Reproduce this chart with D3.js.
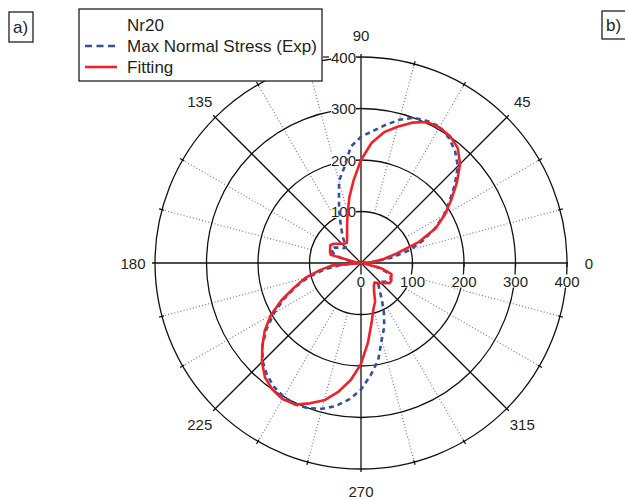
<!DOCTYPE html>
<html>
<head>
<meta charset="utf-8">
<script src="https://cdn.jsdelivr.net/npm/d3@7"></script>
<style>
	body { margin: 0; background: #fff; }
	svg { display: block; font-family: "Liberation Sans", Arial, sans-serif; }
	text { fill: #231f20; }
</style>
</head>
<body>
<svg width="625" height="500"></svg>
<script>
// Angles (degrees, counter-clockwise from the 0 direction) where the curves were read
const angles = [
	0, 5, 10, 15, 20, 25, 30, 35, 40, 45, 50, 55, 60, 65, 70, 75, 80, 85,
	90, 95, 100, 105, 110, 115, 120, 125, 130, 135, 140, 145, 150, 155, 160, 165, 170, 175,
	180, 185, 190, 195, 200, 205, 210, 215, 220, 225, 230, 235, 240, 245, 250, 255, 260, 265,
	270, 275, 280, 285, 290, 295, 300, 305, 310, 315, 320, 325, 330, 335, 340, 345, 350, 355
];

// Max Normal Stress (Exp) - blue dashed
const expStress = [
	0, 22, 60, 98, 128, 158, 186, 210, 238, 266, 284, 297, 306, 304, 300, 288, 272, 257,
	245, 227, 188, 165, 125, 98, 76, 62, 48, 42, 45, 52, 60, 64, 58, 44, 24, 8,
	0, 38, 72, 105, 135, 165, 195, 224, 250, 270, 284, 294, 300, 303, 300, 293, 282, 266,
	246, 218, 192, 155, 132, 105, 80, 62, 52, 52, 57, 62, 66, 64, 55, 36, 16, 5
];

// Fitting - red solid
const fitting = [
	0, 22, 45, 72, 120, 160, 188, 214, 243, 272, 292, 301, 304, 302, 290, 274, 258, 234,
	200, 162, 130, 100, 79, 64, 54, 48, 49, 53, 58, 65, 69, 66, 64, 61, 12, 0,
	2, 58, 82, 112, 137, 170, 202, 228, 250, 272, 290, 300, 305, 303, 290, 276, 254, 228,
	196, 155, 118, 93, 80, 60, 50, 46, 51, 55, 60, 68, 68, 65, 63, 42, 8, 0
];

const ringValues = [100, 200, 300, 400];
const mainAngles = [0, 45, 90, 135, 180, 225, 270, 315];
const minorAngles = [15, 30, 60, 75, 105, 120, 150, 165, 195, 210, 240, 255, 285, 300, 330, 345];
const legendLabels = ["Nr20", "Max Normal Stress (Exp)", "Fitting"];

const cx = 361, cy = 263;		// centre of the polar plot
const R = 206;					// pixel radius of the 400 ring
const rad = d => d * Math.PI / 180;

document.addEventListener("DOMContentLoaded", function() {
	const svg = d3.select("svg");
	const rScale = d3.scaleLinear().domain([0, 400]).range([0, R]);

	renderGrid(svg, rScale);
	renderLabels(svg, rScale);
	renderCurves(svg, rScale);
	renderLegend(svg);
});

/**
 * Point in screen coordinates from a math angle (deg) and a pixel radius
 */
function pt(deg, r) {
	return [cx + r * Math.cos(rad(deg)), cy - r * Math.sin(rad(deg))];
}

function renderGrid(svg, rScale) {
	const g = svg.append("g");

	// dotted spokes every 15 degrees, from the 100 ring out
	g.selectAll(".minor")
	 .data(minorAngles)
	 .enter()
	 .append("line")
	 .attr("x1", d => pt(d, rScale(100))[0])
	 .attr("y1", d => pt(d, rScale(100))[1])
	 .attr("x2", d => pt(d, R)[0])
	 .attr("y2", d => pt(d, R)[1])
	 .attr("stroke", "#6f6fd2")
	 .attr("stroke-width", 1.2)
	 .attr("stroke-dasharray", "1,2.2");

	g.selectAll(".ring")
	 .data(ringValues)
	 .enter()
	 .append("circle")
	 .attr("cx", cx)
	 .attr("cy", cy)
	 .attr("r", d => rScale(d))
	 .attr("fill", "none")
	 .attr("stroke", "#111")
	 .attr("stroke-width", 1.3);

	g.selectAll(".spoke")
	 .data(mainAngles)
	 .enter()
	 .append("line")
	 .attr("x1", cx)
	 .attr("y1", cy)
	 .attr("x2", d => pt(d, R + (d === 0 ? 1 : 3))[0])
	 .attr("y2", d => pt(d, R + (d === 0 ? 1 : 3))[1])
	 .attr("stroke", "#111")
	 .attr("stroke-width", 1.3);

	// little ticks on the outer ring
	g.selectAll(".otick")
	 .data(minorAngles)
	 .enter()
	 .append("line")
	 .attr("x1", d => pt(d, R - 2)[0])
	 .attr("y1", d => pt(d, R - 2)[1])
	 .attr("x2", d => pt(d, R + 3)[0])
	 .attr("y2", d => pt(d, R + 3)[1])
	 .attr("stroke", "#111")
	 .attr("stroke-width", 1.2);

	// ticks under the 0 axis
	g.selectAll(".xtick")
	 .data(ringValues)
	 .enter()
	 .append("line")
	 .attr("x1", d => cx + rScale(d))
	 .attr("x2", d => cx + rScale(d))
	 .attr("y1", cy)
	 .attr("y2", cy + 4)
	 .attr("stroke", "#111")
	 .attr("stroke-width", 1.3);

	g.append("line")
	 .attr("x1", cx - 38).attr("x2", cx - 32)
	 .attr("y1", cy - R).attr("y2", cy - R)
	 .attr("stroke", "#111")
	 .attr("stroke-width", 1.2);
}

/**
 * Text with a white box behind it, so grid lines stop at the label
 */
function boxedText(svg, x, y, label, anchor) {
	const g = svg.append("g");
	const bg = g.append("rect").attr("fill", "#fff");
	const t = g.append("text")
			   .attr("x", x)
			   .attr("y", y)
			   .attr("text-anchor", anchor)
			   .attr("dominant-baseline", "central")
			   .style("font-size", "15px")
			   .text(label);
	const b = t.node().getBBox();
	bg.attr("x", b.x).attr("y", b.y + 2).attr("width", b.width).attr("height", b.height - 4);
}

function renderLabels(svg, rScale) {
	// radius labels along the 90 axis
	ringValues.forEach(v => boxedText(svg, cx - 5, cy - rScale(v), v, "end"));

	// radius labels along the 0 axis
	[0].concat(ringValues).forEach(v => boxedText(svg, cx + rScale(v), cy + 18, v, "middle"));

	// angle labels round the outside
	svg.selectAll(".alabel")
	   .data(mainAngles)
	   .enter()
	   .append("text")
	   .attr("x", d => pt(d, 228)[0])
	   .attr("y", d => pt(d, 228)[1])
	   .attr("text-anchor", "middle")
	   .attr("dominant-baseline", "central")
	   .style("font-size", "15px")
	   .text(d => d);
}

function renderCurves(svg, rScale) {
	const line = values => d3.lineRadial()
		.angle((d, i) => Math.PI / 2 - rad(angles[i]))	// d3 measures clockwise from north
		.radius(d => rScale(d))
		.curve(d3.curveLinearClosed)(values);

	const g = svg.append("g").attr("transform", `translate(${cx},${cy})`);

	g.append("path")
	 .attr("d", line(expStress))
	 .attr("fill", "none")
	 .attr("stroke", "#3450a2")
	 .attr("stroke-width", 2.6)
	 .attr("stroke-dasharray", "5,4");

	g.append("path")
	 .attr("d", line(fitting))
	 .attr("fill", "none")
	 .attr("stroke", "#ee2329")
	 .attr("stroke-width", 2.6)
	 .attr("stroke-linejoin", "round");
}

function renderLegend(svg) {
	const g = svg.append("g");
	g.append("rect")
	 .attr("x", 79).attr("y", 9)
	 .attr("width", 243).attr("height", 72)
	 .attr("fill", "#fff")
	 .attr("stroke", "#231f20")
	 .attr("stroke-width", 1.3);

	const rows = [25, 46, 67];
	g.selectAll(".ltext")
	 .data(legendLabels)
	 .enter()
	 .append("text")
	 .attr("x", 127)
	 .attr("y", (d, i) => rows[i])
	 .attr("dominant-baseline", "central")
	 .style("font-size", "17px")
	 .text(d => d);

	g.append("line")
	 .attr("x1", 85).attr("x2", 118)
	 .attr("y1", rows[1]).attr("y2", rows[1])
	 .attr("stroke", "#3450a2")
	 .attr("stroke-width", 2.6)
	 .attr("stroke-dasharray", "7,4.5");

	g.append("line")
	 .attr("x1", 85).attr("x2", 117)
	 .attr("y1", rows[2]).attr("y2", rows[2])
	 .attr("stroke", "#ee2329")
	 .attr("stroke-width", 2.6);

	// panel tags
	[["a)", 9, 12, 24, 30], ["b)", 602, 11, 30, 28]].forEach(p => {
		svg.append("rect")
		   .attr("x", p[1]).attr("y", p[2])
		   .attr("width", p[3]).attr("height", p[4])
		   .attr("fill", "#fff")
		   .attr("stroke", "#231f20")
		   .attr("stroke-width", 1.3);
		svg.append("text")
		   .attr("x", p[1] + 4)
		   .attr("y", p[2] + p[4] / 2)
		   .attr("dominant-baseline", "central")
		   .style("font-size", "17px")
		   .text(p[0]);
	});
}
</script>
</body>
</html>
